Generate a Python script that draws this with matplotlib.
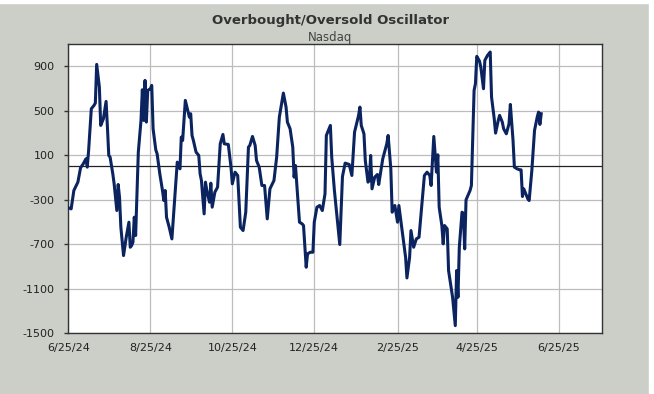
"""
Overbought/Oversold Oscillator - Nasdaq, recreated from chart screenshot.
"""
import matplotlib
matplotlib.use("Agg")
import matplotlib.pyplot as plt
from matplotlib.patches import Rectangle
import pandas as pd

START_DATE = "2024-06-25"
END_DATE   = "2025-07-27"

# days since START_DATE
DAYS = [0, 2, 4, 7, 9, 11, 13, 14, 15, 17, 19, 20, 21, 23, 24, 26, 28, 29, 30, 31,
        33, 34, 36, 37, 38, 39, 41, 43, 45, 46, 47, 48, 49, 50, 52, 54, 55, 56, 57, 58,
        59, 61, 62, 63, 65, 66, 68, 70, 71, 72, 73, 75, 77, 79, 81, 83, 84, 85, 87, 89,
        90, 91, 92, 93, 95, 97, 98, 99, 101, 102, 103, 105, 106, 107, 109, 111, 113, 115, 116, 119,
        120, 121, 122, 124, 126, 128, 130, 132, 134, 135, 137, 139, 140, 142, 144, 146, 148, 150, 153, 155,
        157, 160, 162, 163, 165, 167, 168, 169, 172, 174, 175, 177, 178, 180, 182, 183, 185, 187, 189, 191,
        192, 195, 196, 198, 200, 202, 204, 206, 209, 211, 213, 216, 217, 218, 220, 221, 223, 224, 225, 226,
        228, 230, 231, 234, 237, 238, 240, 241, 243, 245, 246, 251, 252, 254, 255, 257, 259, 261, 264, 265,
        267, 269, 270, 272, 274, 275, 276, 278, 279, 280, 282, 283, 286, 288, 289, 290, 291, 293, 294, 295,
        296, 299, 300, 302, 303, 304, 306, 307, 309, 310, 312, 314, 315, 317, 318, 320, 321, 323, 324, 326,
        328, 329, 331, 332, 334, 336, 337, 338, 339, 342, 343, 345, 347, 349, 350, 351, 352]

OSCILLATOR = [-372, -381, -216, -141, -12, 24, 69, -6, 144, 519, 549, 570, 918, 714, 369, 429, 585, 354, 99, 84,
              -66, -156, -396, -162, -276, -546, -801, -636, -501, -726, -711, -681, -456, -621, 129, 414, 690, 414, 774, 399,
              684, 699, 729, 339, 150, 114, -66, -216, -306, -216, -456, -546, -651, -306, 39, -21, 264, 234, 594, 495,
              444, 474, 279, 234, 129, 99, -66, -126, -426, -141, -216, -321, -150, -366, -231, -186, 204, 288, 204, 198,
              99, -6, -156, -51, -81, -546, -576, -411, 174, 189, 270, 189, 54, -6, -171, -171, -471, -201, -126, 84,
              444, 660, 534, 399, 339, 174, -96, 9, -501, -516, -531, -906, -786, -771, -771, -501, -366, -351, -396, -246,
              279, 369, 84, -216, -456, -702, -90, 30, 18, -81, 309, 459, 534, 369, 294, 54, -141, -126, 99, -201,
              -96, -72, -162, 69, 204, 279, -21, -411, -351, -501, -351, -816, -1002, -816, -576, -726, -651, -636, -216, -81,
              -51, -81, -171, 270, -51, 105, -366, -531, -696, -531, -561, -936, -1176, -1431, -936, -1176, -726, -411, -420, -741,
              -300, -216, -171, 684, 744, 990, 948, 894, 699, 954, 999, 1029, 624, 429, 300, 414, 459, 399, 339, 294,
              384, 558, 234, -6, -21, -30, -30, -270, -201, -291, -306, -36, 324, 444, 489, 378, 474]

Y_TICKS = [900, 500, 100, -300, -700, -1100, -1500]
X_TICKS = ["2024-06-25", "2024-08-25", "2024-10-25", "2024-12-25",
           "2025-02-25", "2025-04-25", "2025-06-25"]

BG     = "#CBCFC8"
NAVY   = "#0B2460"
GRID   = "#BDBDBD"
TEXT   = "#222222"

dates = pd.Timestamp(START_DATE) + pd.to_timedelta(DAYS, unit="D")

fig = plt.figure(figsize=(6.54, 3.94), dpi=100, facecolor=BG)
ax = fig.add_axes([0.1047, 0.154, 0.8153, 0.734])
ax.set_facecolor("white")

ax.plot(dates, OSCILLATOR, color=NAVY, linewidth=2.2, solid_joinstyle="round", zorder=3)
ax.axhline(0, color="#222222", linewidth=0.9, zorder=2)

ax.set_ylim(-1500, 1100)
ax.set_xlim(pd.Timestamp(START_DATE), pd.Timestamp(END_DATE))
ax.set_yticks(Y_TICKS)
ax.set_yticklabels([str(v) for v in Y_TICKS])
xt = [pd.Timestamp(d) for d in X_TICKS]
ax.set_xticks(xt)
ax.set_xticklabels([f"{d.month}/{d.day}/{d.strftime('%y')}" for d in xt])

ax.grid(True, color=GRID, linewidth=0.9, zorder=1)
ax.set_axisbelow(True)
ax.tick_params(axis="y", length=3, width=1, color="#333333", pad=7, labelsize=8, labelcolor=TEXT)
ax.tick_params(axis="x", length=0, pad=7, labelsize=8, labelcolor=TEXT)
for s in ax.spines.values():
    s.set_color("#333333")
    s.set_linewidth(1.0)

fig.text(0.505, 0.949, "Overbought/Oversold Oscillator", ha="center", va="center",
         fontsize=9.5, fontweight="bold", color="#333333")
fig.text(0.505, 0.905, "Nasdaq", ha="center", va="center", fontsize=8.5, color="#444444")

# thin white strips from the surrounding page
fig.add_artist(Rectangle((0, 0.993), 1, 0.007, transform=fig.transFigure, color="white", zorder=0))
fig.add_artist(Rectangle((0.993, 0), 0.007, 1, transform=fig.transFigure, color="white", zorder=0))

plt.savefig("out.png", dpi=100, facecolor=BG)
